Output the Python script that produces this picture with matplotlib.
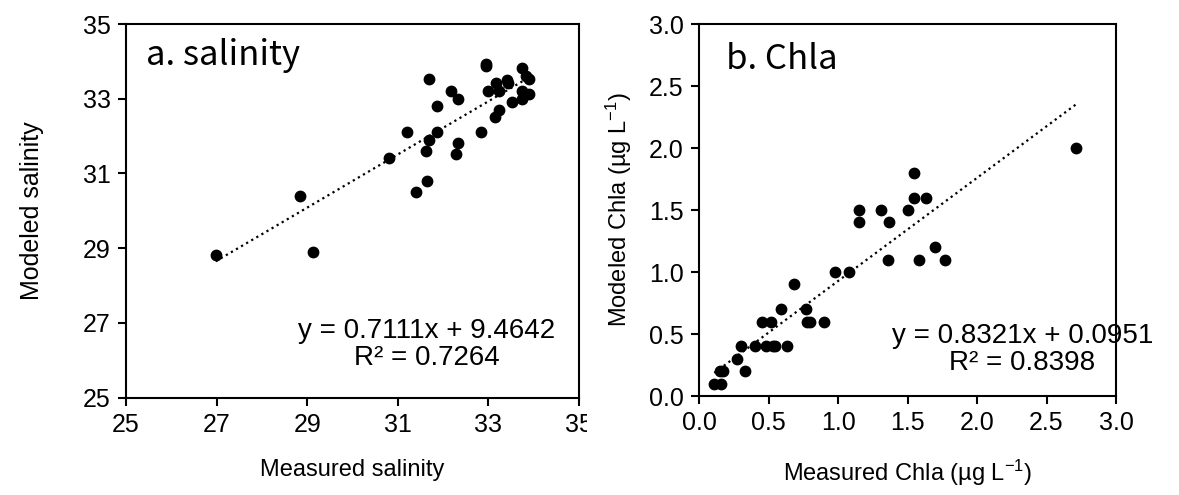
import numpy as np
import matplotlib
matplotlib.use("Agg")
import matplotlib.pyplot as plt
from matplotlib.transforms import Bbox, TransformedBbox

plt.rcParams['font.family'] = ['Liberation Sans', 'DejaVu Sans']
plt.rcParams['mathtext.fontset'] = 'custom'
plt.rcParams['mathtext.rm'] = 'Liberation Sans'
plt.rcParams['mathtext.it'] = 'Liberation Sans:italic'

# a. salinidade (medido x modelado)
sal_med = [26.98, 28.84, 29.13, 30.80, 31.20, 31.40, 31.62, 31.64, 31.69, 31.70,
           31.86, 31.86, 32.17, 32.28, 32.32, 32.34, 32.83, 32.95, 32.95, 32.99,
           33.14, 33.17, 33.23, 33.23, 33.41, 33.44, 33.52, 33.75, 33.75, 33.75,
           33.84, 33.90, 33.89]
sal_mod = [28.81, 30.40, 28.90, 31.42, 32.10, 30.51, 31.61, 30.80, 33.52, 31.90,
           32.81, 32.10, 33.20, 31.51, 33.00, 31.81, 32.10, 33.94, 33.87, 33.21,
           32.50, 33.41, 32.71, 33.20, 33.51, 33.41, 32.91, 33.82, 33.21, 33.00,
           33.60, 33.52, 33.12]
sal_coef = (0.7111, 9.4642)
sal_eq = "y = 0.7111x + 9.4642\nR² = 0.7264"

# b. Chla (medido x modelado)
chl_med = [0.11, 0.16, 0.15, 0.17, 0.27, 0.30, 0.33, 0.40, 0.45, 0.48,
           0.52, 0.53, 0.55, 0.59, 0.63, 0.68, 0.77, 0.78, 0.80, 0.90,
           0.98, 1.08, 1.15, 1.15, 1.31, 1.37, 1.36, 1.50, 1.55, 1.55,
           1.63, 1.58, 1.70, 1.77, 2.71]
chl_mod = [0.10, 0.10, 0.20, 0.20, 0.30, 0.40, 0.20, 0.40, 0.60, 0.40,
           0.60, 0.40, 0.40, 0.70, 0.40, 0.90, 0.70, 0.60, 0.60, 0.60,
           1.00, 1.00, 1.50, 1.40, 1.50, 1.40, 1.10, 1.50, 1.80, 1.60,
           1.60, 1.10, 1.20, 1.10, 2.00]
chl_coef = (0.8321, 0.0951)
chl_eq = "y = 0.8321x + 0.0951\nR² = 0.8398"

fig = plt.figure(figsize=(11.79, 4.95), dpi=100)
ax1 = fig.add_axes([0.1069, 0.1966, 0.3841, 0.7549])
ax2 = fig.add_axes([0.5929, 0.2000, 0.3537, 0.7515])


def estilo(ax):
    for s in ax.spines.values():
        s.set_linewidth(1.5)
        s.set_color("black")
    ax.tick_params(direction="out", length=6, width=1.5, labelsize=18,
                   top=False, right=False, pad=5)


# Painel a
ax1.scatter(sal_med, sal_mod, s=56, color="black", zorder=3)
xs = np.array([min(sal_med), max(sal_med)])
ax1.plot(xs, sal_coef[0] * xs + sal_coef[1], color="black", ls=":", lw=1.6)
ax1.set_xlim(25, 35)
ax1.set_ylim(25, 35)
ax1.set_xticks(np.arange(25, 36, 2))
ax1.set_yticks(np.arange(25, 36, 2))
estilo(ax1)
ax1.set_xlabel("Measured salinity", fontsize=17, labelpad=16)
ax1.set_ylabel("Modeled salinity", fontsize=18, labelpad=28)
ax1.text(0.045, 0.915, "a. salinity", transform=ax1.transAxes, fontsize=25,
         family=["Noto Sans CJK SC", "DejaVu Sans"], fontweight="light",
         va="center", ha="left")
ax1.text(0.664, 0.143, sal_eq, transform=ax1.transAxes, fontsize=20,
         ha="center", va="center", linespacing=1.05)

# Painel b
ax2.scatter(chl_med, chl_mod, s=56, color="black", zorder=3)
xs = np.array([min(chl_med), max(chl_med)])
ax2.plot(xs, chl_coef[0] * xs + chl_coef[1], color="black", ls=":", lw=1.6)
ax2.set_xlim(0, 3)
ax2.set_ylim(0, 3)
ax2.set_xticks(np.arange(0, 3.01, 0.5))
ax2.set_yticks(np.arange(0, 3.01, 0.5))
ax2.xaxis.set_major_formatter(plt.FormatStrFormatter("%.1f"))
ax2.yaxis.set_major_formatter(plt.FormatStrFormatter("%.1f"))
estilo(ax2)
ax2.set_xlabel("Measured Chla (µg L$^{\\mathrm{-1}}$)", fontsize=17, labelpad=16)
ax2.set_ylabel("Modeled Chla (µg L$^{\\mathrm{-1}}$)", fontsize=17, labelpad=11)
ax2.text(0.065, 0.905, "b. Chla", transform=ax2.transAxes, fontsize=25,
         family=["Noto Sans CJK SC", "DejaVu Sans"], fontweight="light",
         va="center", ha="left")
ax2.text(0.775, 0.125, chl_eq, transform=ax2.transAxes, fontsize=20,
         ha="center", va="center", linespacing=1.05)

# o "35" do painel a aparece cortado no original
fig.canvas.draw()
lab = ax1.get_xticklabels()[-1]
lab.set_clip_on(True)
lab.set_clip_box(TransformedBbox(Bbox([[0, 0], [587 / 1179, 1]]), fig.transFigure))

fig.savefig("out.png", dpi=100)
